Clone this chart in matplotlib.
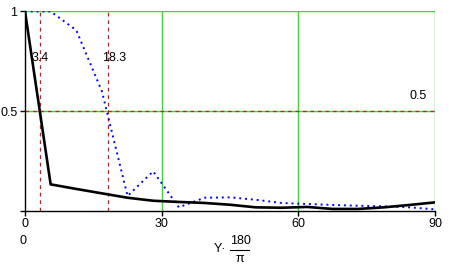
import matplotlib
matplotlib.use('Agg')
import matplotlib.pyplot as plt
from matplotlib.lines import Line2D

# angle in degrees, sampled every 90/16
angles = [0, 5.625, 11.25, 16.875, 22.5, 28.125, 33.75, 39.375, 45,
          50.625, 56.25, 61.875, 67.5, 73.125, 78.75, 84.375, 90]
solid_vals = [1.0, 0.135, 0.112, 0.09, 0.068, 0.053, 0.047, 0.042, 0.033,
              0.02, 0.018, 0.022, 0.012, 0.012, 0.02, 0.032, 0.045]
dotted_vals = [1.0, 1.0, 0.906, 0.60, 0.077, 0.2, 0.02, 0.068, 0.07,
               0.058, 0.042, 0.037, 0.032, 0.028, 0.025, 0.02, 0.01]

x_markers = [3.4, 18.3]
y_markers = [0.5]
xticks = [0, 30, 60, 90]
yticks = [0, 0.5, 1]
ytick_labels = ['', '0.5', '1']

plt.rcParams['font.family'] = ['Liberation Sans', 'DejaVu Sans']

fig = plt.figure(figsize=(4.63, 2.72), dpi=100)
ax = fig.add_axes([0.054, 0.223, 0.886, 0.735])

green = '#22e622'
red = '#dd1111'

# grid
for gx in [30, 60, 90]:
    ax.axvline(gx, color=green, lw=1.0, zorder=1)
for gy in [0.5, 1.0]:
    ax.axhline(gy, color=green, lw=1.0, zorder=1)

# marker lines
for mx in x_markers:
    ax.axvline(mx, color=red, lw=0.9, ls=(0, (3, 3)), zorder=2)
for my in y_markers:
    ax.axhline(my, color=red, lw=0.9, ls=(0, (3, 3)), zorder=2)

# curves
ax.plot(angles, dotted_vals, color='#0000ff', lw=1.4, ls=(0, (1, 2)), zorder=3)
ax.plot(angles, solid_vals, color='black', lw=1.9, zorder=4)

# marker labels
ax.text(1.4, 0.767, '3.4', ha='left', va='center', fontsize=9)
ax.text(16.8, 0.767, '18.3', ha='left', va='center', fontsize=9)
ax.text(88.2, 0.576, '0.5', ha='right', va='center', fontsize=9)

ax.set_xlim(0, 90)
ax.set_ylim(0, 1)
ax.set_xticks(xticks)
ax.set_xticklabels([str(t) for t in xticks])
ax.set_yticks(yticks)
ax.set_yticklabels(ytick_labels)
ax.tick_params(axis='both', direction='out', length=3.5, width=1.0,
               labelsize=9, color='black')
ax.tick_params(axis='x', pad=1)
ax.tick_params(axis='y', pad=2)

ax.spines['top'].set_visible(False)
ax.spines['right'].set_visible(False)
for s in ['left', 'bottom']:
    ax.spines[s].set_linewidth(1.0)

# lower x limit and axis label
fig.text(23 / 463, 1 - 241 / 272, '0', ha='center', va='center', fontsize=9)
fig.text(226 / 463, 1 - 249 / 272, 'Y·', ha='right', va='center', fontsize=9)
fig.text(240 / 463, 1 - 241 / 272, '180', ha='center', va='center', fontsize=9)
fig.text(240 / 463, 1 - 259 / 272, 'π', ha='center', va='center', fontsize=9)
fig.add_artist(Line2D([230 / 463, 249 / 463], [1 - 250 / 272, 1 - 250 / 272],
                      color='black', lw=0.8, transform=fig.transFigure))

fig.savefig('out.png', dpi=100)
